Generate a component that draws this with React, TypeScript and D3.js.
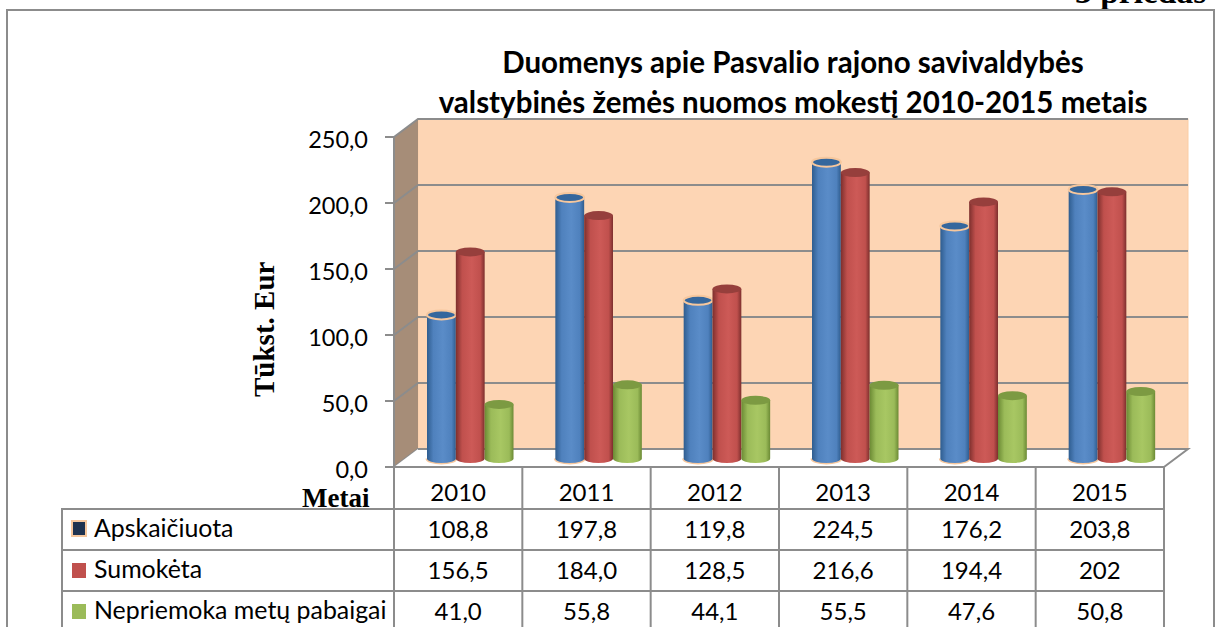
import React from "react";
import * as d3 from "d3";

const years = ["2010", "2011", "2012", "2013", "2014", "2015"];
const apskaiciuota = [108.8, 197.8, 119.8, 224.5, 176.2, 203.8];
const sumoketa = [156.5, 184.0, 128.5, 216.6, 194.4, 202];
const nepriemoka = [41.0, 55.8, 44.1, 55.5, 47.6, 50.8];
const apskLabels = ["108,8", "197,8", "119,8", "224,5", "176,2", "203,8"];
const sumLabels = ["156,5", "184,0", "128,5", "216,6", "194,4", "202"];
const nepLabels = ["41,0", "55,8", "44,1", "55,5", "47,6", "50,8"];
const seriesNames = ["Apskaičiuota", "Sumokėta", "Nepriemoka metų pabaigai"];
const yTicks = [0, 50, 100, 150, 200, 250];
const titleLines = ["Duomenys apie Pasvalio rajono savivaldybės", "valstybinės žemės nuomos mokestį 2010-2015 metais"];

const sans = "Lato, 'Open Sans', sans-serif";
const serif = "'Liberation Serif', serif";
const GRID = "#8c8c8c";
const DX = 24, DY = -18;

const y = d3.scaleLinear().domain([0, 250]).range([467, 137]);
const x = d3.scaleBand<string>().domain(years).range([394, 1164]);
const sInner = d3.scaleBand<number>().domain([0, 1, 2]).range([33, 119.5]);
const barBase = 458.5;
const barScale = d3.scaleLinear().domain([0, 250]).range([0, 330]);
const RY = 4.5;

const palettes = [
  { id: "b", dark: "#2f5d8f", mid: "#4f81bd", light: "#5a8cc8", top: "#35679d", lid: "#f6c79d" },
  { id: "r", dark: "#7d2f2d", mid: "#c0504d", light: "#cd5a57", top: "#963f3c", lid: "none" },
  { id: "g", dark: "#6b8a34", mid: "#9bbb59", light: "#a8c763", top: "#7c9a42", lid: "none" },
];
const seriesValues = [apskaiciuota, sumoketa, nepriemoka];
const rows = [apskLabels, sumLabels, nepLabels];
const rowLines = [509, 550, 591];
const tableLeft = 62;

export default function App() {
  const backLeft = 394 + DX;
  const backRight = 1164 + DX;
  return (
    <svg width={1218} height={627} style={{ position: "absolute", left: 0, top: 0, background: "#fff" }}>
      <defs>
        {palettes.map(p => (
          <linearGradient key={p.id} id={p.id} x1="0" x2="1" y1="0" y2="0">
            <stop offset="0" stopColor={p.dark} />
            <stop offset="0.22" stopColor={p.mid} />
            <stop offset="0.55" stopColor={p.light} />
            <stop offset="0.85" stopColor={p.mid} />
            <stop offset="1" stopColor={p.dark} />
          </linearGradient>
        ))}
      </defs>

      <text x={1075} y={3} fontFamily={serif} fontSize={33.5} fontWeight={700}>3 priedas</text>
      <path d="M7,627 V10 H1214 V627" fill="none" stroke="#8c8c8c" strokeWidth={2} />

      {titleLines.map((t, i) => (
        <text key={i} x={793} y={[73, 113][i]} textAnchor="middle" fontFamily={sans} fontWeight={700} fontSize={29.5}>{t}</text>
      ))}

      {/* walls */}
      <rect x={backLeft} y={y(250) + DY} width={backRight - backLeft} height={y(0) - y(250)} fill="#fdd5b4" stroke="#fbcda5" />
      <polygon
        points={`394,${y(250)} ${backLeft},${y(250) + DY} ${backLeft},${y(0) + DY} 394,${y(0)}`}
        fill="#a68d78"
      />
      {yTicks.map(t => (
        <g key={t}>
          <path d={`M394,${y(t)} L${backLeft},${y(t) + DY} H${backRight}`} fill="none" stroke={GRID} strokeWidth={2} />
          <line x1={385} x2={394} y1={y(t)} y2={y(t)} stroke={GRID} strokeWidth={2} />
          <text x={368} y={y(t) + 10.5} textAnchor="end" fontFamily={sans} fontSize={23.5}>{d3.format(".1f")(t).replace(".", ",")}</text>
        </g>
      ))}
      <polygon points={`394,${y(0)} ${backLeft},${y(0) + DY} ${backRight},${y(0) + DY} 1164,${y(0)}`} fill="#fff" />
      <path d={`M${backLeft},${y(0) + DY} H${backRight} L1164,${y(0)}`} fill="none" stroke={GRID} strokeWidth={2} />
      <line x1={394} x2={394} y1={y(250)} y2={y(0)} stroke={GRID} strokeWidth={2} />

      {/* bars */}
      {years.map((yr, i) =>
        palettes.map((p, s) => {
          const v = seriesValues[s][i];
          const left = x(yr)! + sInner(s)!;
          const w = sInner.bandwidth();
          const h = barScale(v);
          const top = barBase - h;
          const rx = w / 2;
          const d = `M${left},${top} V${barBase} A${rx},${RY} 0 0 0 ${left + w},${barBase} V${top} Z`;
          return (
            <g key={yr + s}>
              {s === 0 && (
                <path d={`M${left},${barBase} A${rx},${RY} 0 0 0 ${left + w},${barBase}`} fill="none" stroke="#f6c79d" strokeWidth={3} />
              )}
              <path d={d} fill={`url(#${p.id})`} />
              <ellipse cx={left + rx} cy={top} rx={rx} ry={RY} fill={p.top} stroke={p.lid} strokeWidth={s === 0 ? 2 : 0} />
            </g>
          );
        })
      )}

      {/* axis titles */}
      <text transform="translate(274,397) rotate(-90)" fontFamily={serif} fontWeight={700} fontSize={29}>Tūkst. Eur</text>
      <text x={302} y={507} fontFamily={serif} fontWeight={700} fontSize={27}>Metai</text>

      {/* data table */}
      <g stroke={GRID} strokeWidth={2} fill="none">
        <line x1={394} x2={1164} y1={467} y2={467} />
        {rowLines.map(r => <line key={r} x1={tableLeft} x2={1164} y1={r} y2={r} />)}
        <line x1={tableLeft} x2={tableLeft} y1={508} y2={627} />
        {[...years.map(v => x(v)!), 1164].map(v => <line key={v} x1={v} x2={v} y1={467} y2={627} />)}
      </g>
      {years.map(yr => (
        <text key={yr} x={x(yr)! + x.bandwidth() / 2} y={501} textAnchor="middle" fontFamily={sans} fontSize={24}>{yr}</text>
      ))}
      {rows.map((row, r) => (
        <g key={r}>
          <rect x={72} y={[521, 563, 604][r]} width={14} height={15}
            fill={["#1f3350", "#c0504d", "#9bbb59"][r]}
            stroke={r === 0 ? "#f6c79d" : "none"} strokeWidth={2} />
          <text x={94} y={[537, 578, 619][r]} fontFamily={sans} fontSize={24.9}>{seriesNames[r]}</text>
          {row.map((lab, i) => (
            <text key={i} x={x(years[i])! + x.bandwidth() / 2} y={[538, 579, 620][r]} textAnchor="middle" fontFamily={sans} fontSize={24}>{lab}</text>
          ))}
        </g>
      ))}
    </svg>
  );
}
